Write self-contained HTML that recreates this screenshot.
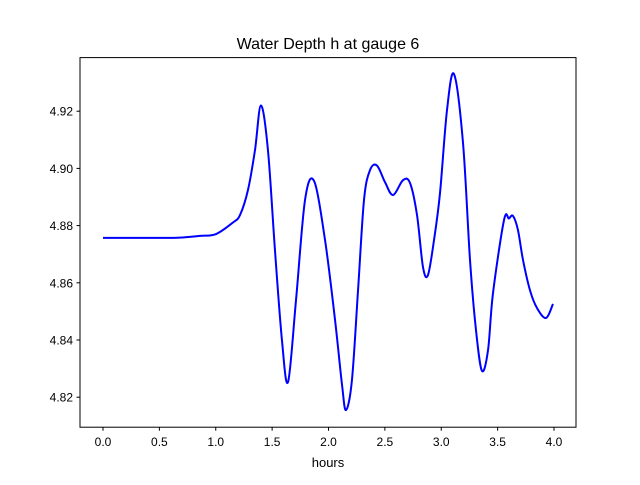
<!DOCTYPE html>
<html><head><meta charset="utf-8"><style>
body{margin:0;background:#fff}
svg text{font-family:"Liberation Sans","DejaVu Sans",sans-serif;fill:#000}
</style></head><body>
<svg id="chart" width="640" height="480">
<rect x="0" y="0" width="640" height="480" fill="#fff"/>
<text x="328" y="49" font-size="16" text-anchor="middle">Water Depth h at gauge 6</text>
<g id="xticks"></g>
<g id="yticks"></g>
<path id="line" fill="none" stroke="#0000ff" stroke-width="2" stroke-linejoin="round"/>
<rect x="80" y="57.6" width="496" height="369.6" fill="none" stroke="#000" stroke-width="1"/>
<text x="328" y="467" font-size="13" text-anchor="middle">hours</text>
</svg>
<script>
const hours=[0,0.5,0.68,0.86,1.0,1.15,1.215,1.286,1.348,1.401,1.463,1.525,1.587,1.641,1.712,1.792,1.872,1.969,2.058,2.12,2.155,2.208,2.262,2.315,2.368,2.43,2.501,2.572,2.661,2.723,2.785,2.838,2.882,2.936,2.989,3.051,3.113,3.193,3.255,3.308,3.361,3.415,3.459,3.557,3.6,3.636,3.68,3.725,3.787,3.849,3.929,3.991];
const depth=[4.8757,4.8757,4.8758,4.8764,4.877,4.881,4.8837,4.8925,4.9064,4.922,4.9064,4.8715,4.84,4.8253,4.854,4.889,4.8956,4.875,4.847,4.8243,4.8155,4.826,4.8574,4.889,4.8994,4.901,4.8952,4.8907,4.8959,4.8949,4.8837,4.8655,4.8627,4.875,4.8914,4.9204,4.933,4.9089,4.868,4.8435,4.8292,4.8365,4.8564,4.882,4.8825,4.8834,4.8785,4.868,4.8574,4.8512,4.8477,4.8526];
const xTickVals=[0,0.5,1,1.5,2,2.5,3,3.5,4];
const xTickLabels=["0.0","0.5","1.0","1.5","2.0","2.5","3.0","3.5","4.0"];
const yTickVals=[4.82,4.84,4.86,4.88,4.90,4.92];
const yTickLabels=["4.82","4.84","4.86","4.88","4.90","4.92"];
const X=h=>103+h*112.75;
const Y=v=>225.6-(v-4.88)*2860;
const NS="http://www.w3.org/2000/svg";
const xg=document.getElementById('xticks'), yg=document.getElementById('yticks');
xTickVals.forEach((v,i)=>{
 const l=document.createElementNS(NS,'line');
 
 
 l.setAttribute('x1',X(v));l.setAttribute('x2',X(v));l.setAttribute('y1',427.2);l.setAttribute('y2',430.7);l.setAttribute('stroke','#000');
 xg.appendChild(l);
 const t=document.createElementNS(NS,'text');
 
 
 t.setAttribute('x',X(v));t.setAttribute('y',446);t.setAttribute('font-size','12');t.setAttribute('text-anchor','middle');
 t.textContent=xTickLabels[i];xg.appendChild(t);
});
yTickVals.forEach((v,i)=>{
 const l=document.createElementNS(NS,'line');
 
 
 l.setAttribute('x1',76.5);l.setAttribute('x2',80);l.setAttribute('y1',Y(v));l.setAttribute('y2',Y(v));l.setAttribute('stroke','#000');
 yg.appendChild(l);
 const t=document.createElementNS(NS,'text');
 
 
 t.setAttribute('x',73);t.setAttribute('y',Y(v)+4.5);t.setAttribute('font-size','12');t.setAttribute('text-anchor','end');
 t.textContent=yTickLabels[i];yg.appendChild(t);
});
const P=hours.map((h,i)=>[X(h),Y(depth[i])]);
let d=`M${P[0][0]},${P[0][1]}`;
for(let i=0;i<P.length-1;i++){
 const p0=P[Math.max(0,i-1)],p1=P[i],p2=P[i+1],p3=P[Math.min(P.length-1,i+2)];
 const c1=[p1[0]+(p2[0]-p0[0])/6,p1[1]+(p2[1]-p0[1])/6];
 const c2=[p2[0]-(p3[0]-p1[0])/6,p2[1]-(p3[1]-p1[1])/6];
 d+=` C${c1[0]},${c1[1]} ${c2[0]},${c2[1]} ${p2[0]},${p2[1]}`;
}
document.getElementById('line').setAttribute('d',d);
</script>
</body></html>
